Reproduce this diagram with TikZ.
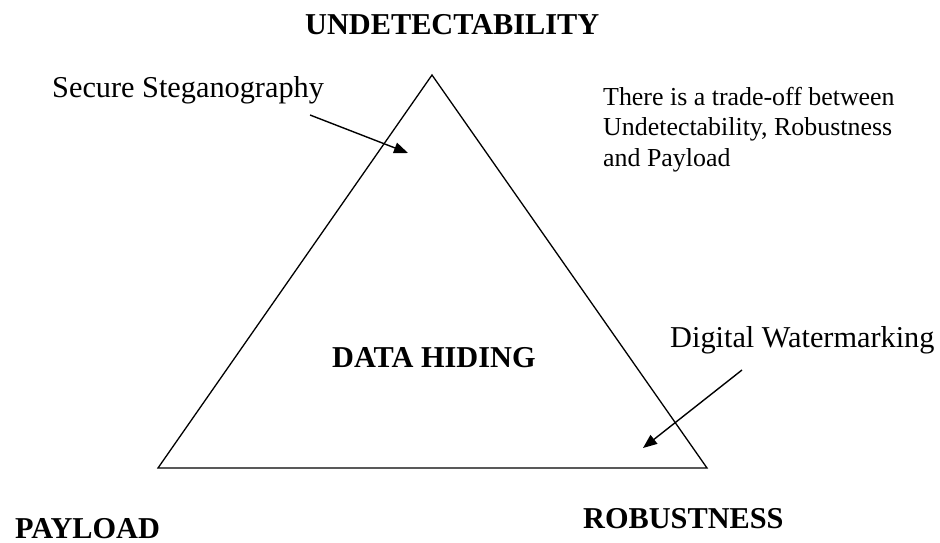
\documentclass[tikz,border=0pt]{standalone}
\usepackage{fontspec}
\setmainfont{Liberation Serif}
\usetikzlibrary{arrows.meta}

\begin{document}
\begin{tikzpicture}[x=1pt, y=-1pt,
	every node/.style={inner sep=0pt, anchor=base west, font=\fontsize{30.3}{36}\selectfont},
	corner/.style={font=\fontsize{30.3}{36}\selectfont\bfseries},
	pointer/.style={-{Triangle[length=14pt, width=11pt]}, line width=1.4pt}]
			\useasboundingbox (0,0) rectangle (940,543);
			\coordinate (top) at (432,75);
			\coordinate (bl) at (158,468);
			\coordinate (br) at (707,468);
			\draw[line width=1.3pt, line join=miter] (top) -- (bl) -- (br) -- cycle;
			
			\node[corner] (undet) at (305,35) {UNDETECTABILITY};
			\node[corner] (payload) at (15,538) {PAYLOAD};
			\node[corner] (robust) at (583,528) {ROBUSTNESS};
			\node[corner] (hiding) at (332,367) {DATA HIDING};
			
			\node (steg) at (52,97) {Secure Steganography};
			\node (wmark) at (670,347) {Digital Watermarking};
			\node[anchor=north west, align=left, font=\fontsize{25.9}{30.5}\selectfont] (note) at (603,87)
				{There is a trade-off between\\Undetectability, Robustness\\and Payload};
			
			\coordinate (stegfrom) at (310,115);
			\coordinate (stegto) at (408,153);
			\coordinate (wmfrom) at (742,370);
			\coordinate (wmto) at (643,448);
			\draw[pointer] (stegfrom) -- (stegto);
			\draw[pointer] (wmfrom) -- (wmto);
			\end{tikzpicture}
\end{document}
